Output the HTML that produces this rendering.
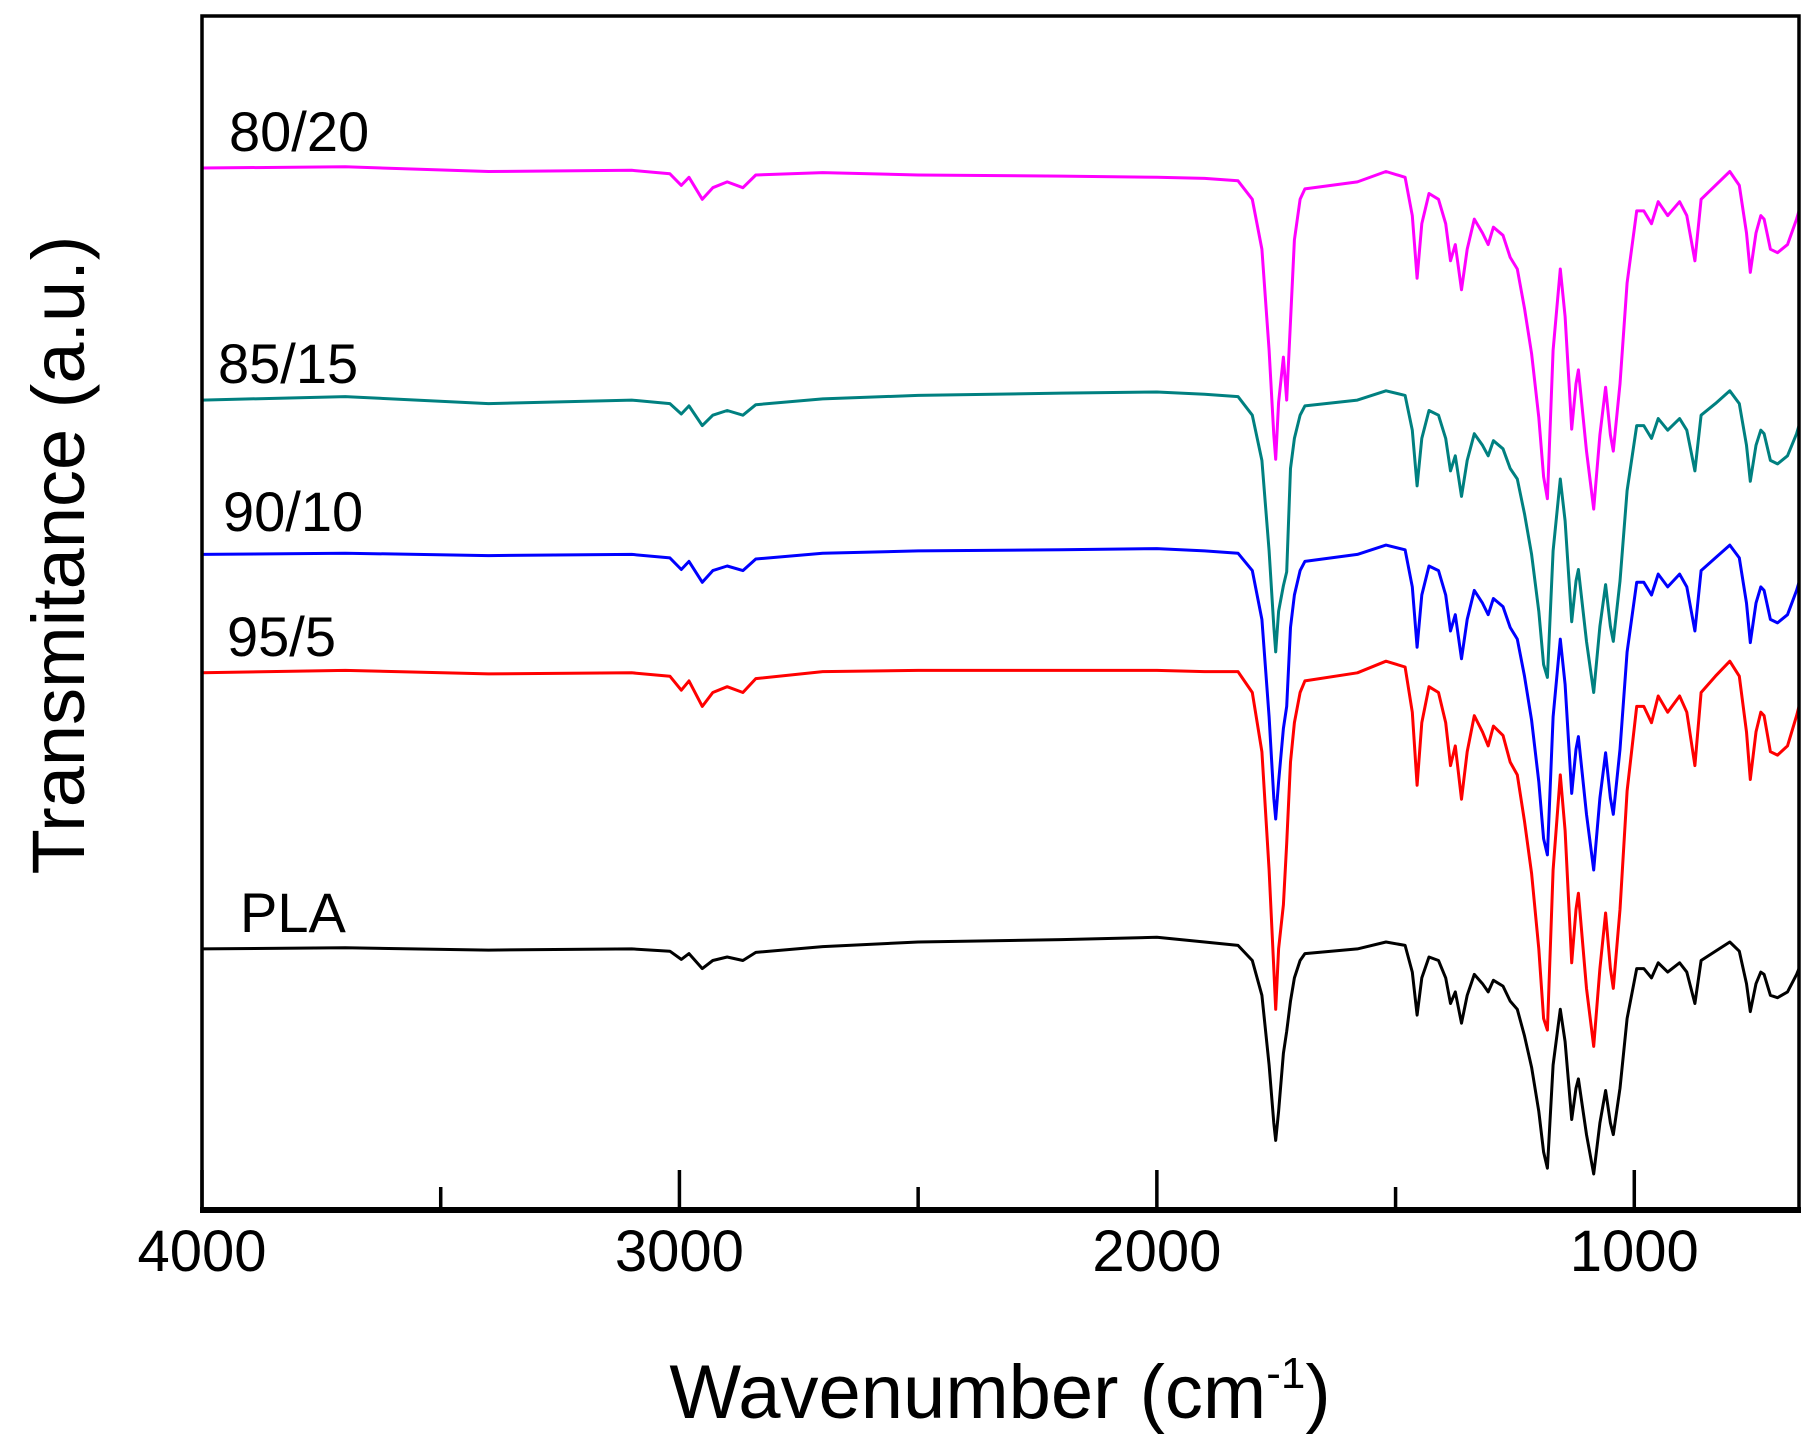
<!DOCTYPE html>
<html><head><meta charset="utf-8"><style>
html,body{margin:0;padding:0;background:#fff;}
svg{display:block;}
text{font-family:"Liberation Sans",Arial,sans-serif;fill:#000;}
</style></head><body>
<svg id="chart" width="1815" height="1455" viewBox="0 0 1815 1455" xmlns="http://www.w3.org/2000/svg">
<g id="series"></g>
<rect x="202" y="16" width="1597" height="1194" fill="none" stroke="#000" stroke-width="3.5"/>
<line x1="200" y1="1210" x2="1801" y2="1210" stroke="#000" stroke-width="6"/>
<g id="ticks"></g>
<text x="1000" y="1418" font-size="76" text-anchor="middle">Wavenumber (cm<tspan dy="-30" font-size="44">-1</tspan><tspan dy="30">)</tspan></text>
<text transform="translate(84,555) rotate(-90)" font-size="74" text-anchor="middle">Transmitance (a.u.)</text>
<text x="229" y="151" font-size="56">80/20</text>
<text x="218" y="383" font-size="56">85/15</text>
<text x="223" y="531" font-size="56">90/10</text>
<text x="227" y="656" font-size="56">95/5</text>
<text x="240" y="932" font-size="56">PLA</text>
</svg>
<script>
const wavenumbers=[4000,3700,3400,3100,3020,2996,2980,2952,2930,2900,2867,2840,2700,2500,2200,2000,1900,1830,1800,1780,1765,1755,1751,1745,1735,1728,1720,1712,1700,1690,1580,1520,1480,1465,1455,1445,1430,1410,1395,1385,1375,1362,1350,1335,1318,1306,1295,1275,1260,1245,1230,1215,1200,1190,1182,1170,1155,1145,1131,1122,1117,1100,1085,1072,1060,1050,1044,1030,1015,995,980,964,950,930,905,890,873,860,830,800,780,765,757,745,735,728,715,700,679,660,655];
const seriesNames=["80/20","85/15","90/10","95/5","PLA"];
const seriesColors=["#ff00ff","#008080","#0000ff","#ff0000","#000000"];
const seriesOffsets=[886,698,565,463,225];
const s8020=[12,13,9,10,7,-3,4,-15,-5,0,-5,6,8,6,5,4,3,1,-15,-58,-145,-218,-239,-190,-151,-188,-120,-50,-15,-6,0,9,4,-29,-83,-36,-10,-15,-36,-68,-54,-93,-58,-32,-44,-54,-39,-46,-65,-75,-109,-148,-203,-254,-273,-145,-75,-116,-213,-174,-162,-232,-282,-218,-177,-218,-232,-174,-87,-25,-25,-36,-17,-29,-17,-29,-68,-15,-3,9,-3,-44,-78,-44,-29,-32,-58,-61,-54,-32,-25];
const s8515=[0,3,-3,0,-3,-12,-5,-22,-13,-9,-13,-4,1,4,6,7,5,3,-13,-52,-130,-195,-217,-182,-160,-148,-59,-33,-13,-5,0,8,4,-26,-74,-33,-9,-13,-33,-61,-48,-83,-52,-29,-39,-48,-35,-42,-59,-68,-98,-133,-182,-228,-239,-130,-68,-104,-191,-156,-146,-208,-252,-195,-159,-195,-208,-156,-78,-22,-22,-33,-16,-26,-16,-26,-61,-13,-3,8,-3,-39,-70,-39,-26,-29,-52,-55,-48,-29,-22];
const s9010=[0,1,-1,0,-3,-13,-6,-24,-14,-10,-14,-4,1,3,4,5,3,1,-14,-56,-140,-210,-228,-196,-150,-131,-63,-35,-14,-6,0,8,4,-28,-80,-35,-10,-14,-35,-66,-52,-90,-56,-31,-42,-52,-38,-45,-63,-73,-105,-143,-196,-245,-259,-140,-73,-112,-206,-168,-157,-224,-272,-210,-171,-210,-224,-168,-84,-24,-24,-35,-17,-28,-17,-28,-66,-14,-3,8,-3,-42,-76,-42,-28,-31,-56,-59,-52,-31,-24];
const s955=[0,2,-1,0,-3,-15,-7,-29,-17,-12,-17,-5,1,2,2,2,1,1,-17,-68,-170,-255,-290,-238,-200,-147,-77,-43,-17,-7,0,10,5,-34,-97,-43,-12,-17,-43,-80,-63,-109,-68,-37,-51,-63,-46,-54,-77,-88,-128,-173,-238,-298,-308,-170,-88,-136,-250,-204,-190,-272,-322,-255,-207,-255,-272,-204,-102,-29,-29,-43,-20,-34,-20,-34,-80,-17,-3,10,-3,-51,-92,-51,-34,-37,-68,-71,-63,-37,-29];
const sPLA=[0,1,-1,0,-2,-9,-4,-17,-10,-7,-10,-3,2,6,8,10,6,3,-10,-40,-100,-150,-165,-140,-90,-71,-45,-25,-10,-4,0,6,3,-20,-57,-25,-7,-10,-25,-47,-37,-64,-40,-22,-30,-37,-27,-32,-45,-52,-75,-102,-140,-175,-189,-100,-52,-80,-147,-120,-112,-160,-194,-150,-122,-150,-160,-120,-60,-17,-17,-25,-12,-20,-12,-20,-47,-10,-2,6,-2,-30,-54,-30,-20,-22,-40,-42,-37,-22,-17];
const majorTicks=[4000,3000,2000,1000];
const majorTickLabels=["4000","3000","2000","1000"];
const minorTicks=[3500,2500,1500];
const seriesValues=[s8020,s8515,s9010,s955,sPLA];

const NS="http://www.w3.org/2000/svg";
const X0=202,X1=1799,Y0=1210,Y1=16;
const W_MAX=4000,W_MIN=655,V_MIN=0,V_MAX=1029;
function xScale(w){return X0+(W_MAX-w)/(W_MAX-W_MIN)*(X1-X0);}
function yScale(v){return Y0-(v-V_MIN)/(V_MAX-V_MIN)*(Y0-Y1);}

const sg=document.getElementById('series');
seriesValues.forEach((vals,i)=>{
  const n=Math.min(vals.length,wavenumbers.length);
  let d="";
  for(let j=0;j<n;j++){d+=(j?"L":"M")+xScale(wavenumbers[j]).toFixed(1)+","+yScale(seriesOffsets[i]+vals[j]).toFixed(1);}
  const p=document.createElementNS(NS,'path');
  p.setAttribute('d',d);
  p.setAttribute('fill','none');
  p.setAttribute('stroke',seriesColors[i]);
  p.setAttribute('stroke-width','3');
  p.setAttribute('stroke-linejoin','round');
  
  
  sg.appendChild(p);
});

const tg=document.getElementById('ticks');
majorTicks.forEach((w,i)=>{
  const x=xScale(w);
  const l=document.createElementNS(NS,'line');
  l.setAttribute('x1',x);l.setAttribute('x2',x);
  l.setAttribute('y1',Y0);l.setAttribute('y2',Y0-40);
  l.setAttribute('stroke','#000');l.setAttribute('stroke-width','3.5');
  
  
  tg.appendChild(l);
  const t=document.createElementNS(NS,'text');
  t.setAttribute('x',x);t.setAttribute('y',1271);
  t.setAttribute('font-size','58');t.setAttribute('text-anchor','middle');
  t.textContent=majorTickLabels[i];
  
  
  tg.appendChild(t);
});
minorTicks.forEach(w=>{
  const x=xScale(w);
  const l=document.createElementNS(NS,'line');
  l.setAttribute('x1',x);l.setAttribute('x2',x);
  l.setAttribute('y1',Y0);l.setAttribute('y2',Y0-23);
  l.setAttribute('stroke','#000');l.setAttribute('stroke-width','3.5');
  
  
  tg.appendChild(l);
});
</script>
</body></html>
